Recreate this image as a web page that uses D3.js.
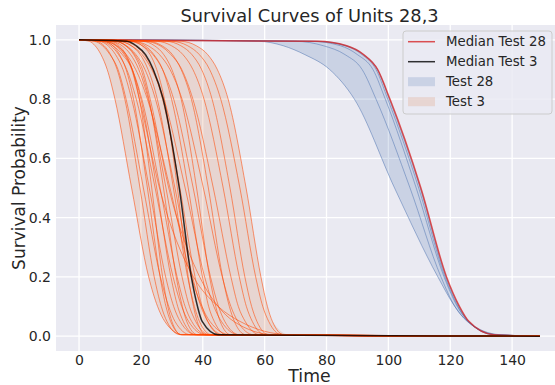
<!DOCTYPE html>
<html>
<head>
<meta charset="utf-8">
<script src="https://cdn.jsdelivr.net/npm/d3@7"></script>
<style>
  body { margin: 0; background: #fff; }
  text { font-family: "DejaVu Sans", sans-serif; fill: #262626; }
</style>
</head>
<body>
<svg id="chart" width="555" height="385"></svg>
<script>
const levels = [0.995, 0.98, 0.95, 0.9, 0.8, 0.5, 0.2, 0.1, 0.05, 0.005];
const tStart = 0;
const tEnd = 149;

// Test 28 curves: time at which survival hits each level
const test28Curves = [
  [58, 66, 73, 81, 89, 102, 116, 121.5, 125.5, 136],
  [70, 79, 86, 91.5, 96, 107, 117, 121.5, 125.5, 135],
  [75, 84.5, 90, 95, 99, 109, 118, 122.3, 125.8, 134.5],
  [76.5, 86, 91.5, 96, 99.8, 109.8, 118.3, 122.5, 125.8, 134],
  [77.5, 86.5, 92, 96.5, 100.3, 110.3, 118.6, 122.8, 126, 134]
];
const test28Median = [77, 86.5, 92, 96.5, 100.5, 110.5, 118.8, 123, 126, 134];

// Test 3 curves
const test3Curves = [
  [3.3, 5.2, 7.1, 9.1, 11.6, 17, 22.5, 25.4, 27.7, 33.5],
  [5.7, 8.1, 10.2, 12.3, 14.8, 19.7, 24.3, 26.6, 28.4, 32.7],
  [5.0, 7.6, 10.0, 12.6, 15.2, 20.8, 26.3, 29.0, 31.0, 36.0],
  [8.2, 10.9, 13.1, 15.2, 17.6, 22.1, 26.2, 28.1, 29.6, 33.2],
  [6.6, 9.4, 11.8, 14.2, 17.0, 22.7, 28.0, 30.6, 32.7, 37.7],
  [10.3, 13.0, 15.2, 17.2, 19.5, 23.5, 27.0, 28.7, 30.0, 33.0],
  [7.1, 10.2, 12.8, 15.4, 18.5, 24.6, 30.4, 33.2, 35.4, 40.8],
  [9.4, 12.4, 14.9, 17.2, 20.0, 25.1, 29.7, 31.9, 33.7, 37.7],
  [8.6, 11.9, 14.6, 17.2, 20.3, 26.2, 31.7, 34.3, 36.4, 41.4],
  [12.0, 15.2, 17.7, 20.0, 22.6, 27.3, 31.4, 33.4, 34.8, 38.3],
  [10.5, 13.9, 16.7, 19.3, 22.4, 28.1, 33.3, 35.7, 37.7, 42.2],
  [8.5, 12.1, 15.3, 18.3, 22.1, 29.4, 36.3, 39.7, 42.3, 48.8],
  [13.4, 16.9, 19.8, 22.3, 25.3, 30.5, 35.1, 37.3, 38.9, 42.8],
  [11.6, 15.3, 18.4, 21.3, 24.7, 31.0, 36.7, 39.4, 41.6, 46.6],
  [17.2, 20.4, 23.0, 25.1, 27.6, 31.8, 35.3, 37.0, 38.2, 41.0],
  [14.3, 18.1, 21.1, 23.8, 27.0, 32.6, 37.5, 39.8, 41.6, 45.8],
  [12.8, 16.9, 20.4, 23.5, 27.4, 34.3, 40.6, 43.6, 46.0, 51.6],
  [17.3, 21.3, 24.2, 27.0, 29.9, 35.3, 39.9, 41.9, 43.7, 47.5],
  [16.2, 20.5, 23.9, 27.0, 30.6, 36.9, 42.5, 45.1, 47.1, 51.8],
  [20.5, 24.4, 27.4, 30.0, 33.0, 38.0, 42.2, 44.2, 45.6, 49.0],
  [17.7, 22.3, 26.0, 29.4, 33.3, 40.2, 46.3, 49.1, 51.3, 56.4],
  [22.6, 26.8, 30.2, 33.0, 36.3, 41.8, 46.4, 48.6, 50.2, 53.9],
  [21.3, 26.2, 29.7, 33.2, 36.8, 43.4, 49.1, 51.5, 53.7, 58.5],
  [25.2, 29.9, 33.6, 36.8, 40.4, 46.6, 51.8, 54.1, 56.0, 60.1],
  [28.2, 32.9, 36.5, 39.6, 43.0, 48.8, 53.6, 55.8, 57.5, 61.3],
  [30.0, 35.1, 38.9, 42.2, 45.8, 52.0, 57.1, 59.4, 61.3, 65.4],
  [33.0, 37.9, 41.6, 44.7, 48.2, 54.0, 58.8, 60.9, 62.5, 66.2],
  [8, 11, 14, 17, 19.5, 26, 37, 45, 52, 68],
  [12, 15, 18, 20.5, 23, 29, 39, 45, 50, 63]
];
const test3Median = [15.4, 18.5, 21.5, 24.0, 27.2, 32.4, 36.3, 38.3, 39.8, 45];

const xTicks = [0, 20, 40, 60, 80, 100, 120, 140];
const yTicks = [0.0, 0.2, 0.4, 0.6, 0.8, 1.0];

const legendItems = [
  { label: "Median Test 28", kind: "line", color: "#d62728", opacity: 0.8 },
  { label: "Median Test 3", kind: "line", color: "#000000", opacity: 0.8 },
  { label: "Test 28", kind: "patch", color: "#4C72B0", opacity: 0.2 },
  { label: "Test 3", kind: "patch", color: "#DD8452", opacity: 0.2 }
];

const svg = d3.select("#chart");

const x = d3.scaleLinear().domain([-7.45, 156.45]).range([56, 563]);
const y = d3.scaleLinear().domain([-0.05, 1.05]).range([351, 25]);

// background
svg.append("rect")
  .attr("x", x.range()[0]).attr("y", y.range()[1])
  .attr("width", x.range()[1] - x.range()[0])
  .attr("height", y.range()[0] - y.range()[1])
  .attr("fill", "#EAEAF2");

// grid
svg.append("g").selectAll("line").data(xTicks).enter().append("line")
  .attr("x1", d => x(d)).attr("x2", d => x(d))
  .attr("y1", y.range()[1]).attr("y2", y.range()[0])
  .attr("stroke", "#fff").attr("stroke-width", 1.3);
svg.append("g").selectAll("line").data(yTicks).enter().append("line")
  .attr("y1", d => y(d)).attr("y2", d => y(d))
  .attr("x1", x.range()[0]).attr("x2", x.range()[1])
  .attr("stroke", "#fff").attr("stroke-width", 1.3);

const toPoints = times => [{ t: tStart, s: 1 }]
  .concat(levels.map((p, i) => ({ t: times[i], s: p })))
  .concat([{ t: tEnd, s: 0 }]);

const line = d3.line()
  .x(d => x(d.t))
  .y(d => y(d.s))
  .curve(d3.curveMonotoneX);

// band between the earliest and the latest curve of a test
const band = curves => {
  const lo = levels.map((p, i) => d3.min(curves, c => c[i]));
  const hi = levels.map((p, i) => d3.max(curves, c => c[i]));
  const upper = line(toPoints(hi));
  const lower = line(toPoints(lo).reverse());
  return upper + lower.replace(/^M/, "L") + "Z";
};

// fills first (they sit below every line)
svg.append("path").attr("d", band(test28Curves))
  .attr("fill", "#4C72B0").attr("fill-opacity", 0.2);
svg.append("path").attr("d", band(test3Curves))
  .attr("fill", "#DD8452").attr("fill-opacity", 0.2);

svg.append("g").selectAll("path").data(test28Curves).enter().append("path")
  .attr("d", c => line(toPoints(c)))
  .attr("fill", "none").attr("stroke", "#4C72B0")
  .attr("stroke-opacity", 0.5).attr("stroke-width", 1);

svg.append("path").datum(toPoints(test28Median))
  .attr("d", line).attr("fill", "none")
  .attr("stroke", "#d62728").attr("stroke-opacity", 0.8).attr("stroke-width", 1.5);

svg.append("g").selectAll("path").data(test3Curves).enter().append("path")
  .attr("d", c => line(toPoints(c)))
  .attr("fill", "none").attr("stroke", "#FF4500")
  .attr("stroke-opacity", 0.55).attr("stroke-width", 1);

svg.append("path").datum(toPoints(test3Median))
  .attr("d", line).attr("fill", "none")
  .attr("stroke", "#000").attr("stroke-opacity", 0.8).attr("stroke-width", 1.5);

// axes
const xAxis = svg.append("g")
  .attr("transform", "translate(0," + y.range()[0] + ")")
  .call(d3.axisBottom(x).tickValues(xTicks).tickSize(0).tickPadding(4));
const yAxis = svg.append("g")
  .attr("transform", "translate(" + x.range()[0] + ",0)")
  .call(d3.axisLeft(y).tickValues(yTicks).tickFormat(d3.format(".1f")).tickSize(0).tickPadding(5));
[xAxis, yAxis].forEach(a => {
  a.select(".domain").remove();
  a.selectAll("text").style("font-family", "DejaVu Sans").style("font-size", "14px").attr("fill", "#262626");
});

// titles
svg.append("text").attr("x", 309.5).attr("y", 22)
  .attr("text-anchor", "middle").style("font-size", "17.8px")
  .text("Survival Curves of Units 28,3");
svg.append("text").attr("x", 309.5).attr("y", 382)
  .attr("text-anchor", "middle").style("font-size", "17.3px")
  .text("Time");
svg.append("text")
  .attr("transform", "translate(25,188) rotate(-90)")
  .attr("text-anchor", "middle").style("font-size", "17px")
  .text("Survival Probability");

// legend
const lg = svg.append("g").attr("transform", "translate(403,31)");
lg.append("rect").attr("width", 149).attr("height", 83).attr("rx", 3)
  .attr("fill", "#EAEAF2").attr("fill-opacity", 0.8)
  .attr("stroke", "#cccccc").attr("stroke-width", 1);
legendItems.forEach((it, i) => {
  const cy = 10.7 + i * 20;
  if (it.kind === "line") {
    lg.append("line").attr("x1", 5).attr("x2", 32).attr("y1", cy).attr("y2", cy)
      .attr("stroke", it.color).attr("stroke-opacity", it.opacity).attr("stroke-width", 1.5);
  } else {
    lg.append("rect").attr("x", 5).attr("y", cy - 4.5).attr("width", 27).attr("height", 9)
      .attr("fill", it.color).attr("fill-opacity", it.opacity);
  }
  lg.append("text").attr("x", 43).attr("y", cy).attr("dy", "0.36em")
    .style("font-size", "13.3px").text(it.label);
});
</script>
</body>
</html>
